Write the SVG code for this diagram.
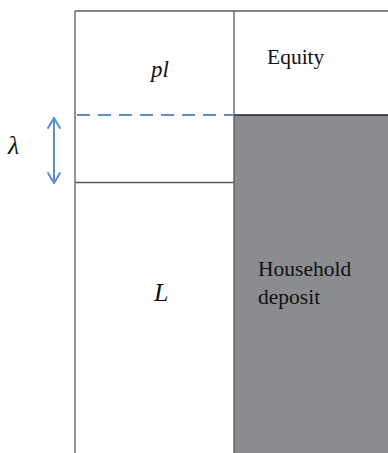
<svg xmlns="http://www.w3.org/2000/svg" width="388" height="453" viewBox="0 0 388 453">
<style>
.ln{stroke:#595959;stroke-width:1.3;fill:none}
.t{font-family:Liberation Serif,Times New Roman,serif;fill:#111}
.it{font-style:italic}
.blue{stroke:#5b8fcc;stroke-width:2;fill:none;stroke-linecap:round;stroke-linejoin:round}
</style>
<defs>
<marker id="ah" viewBox="0 0 12 14" refX="11" refY="7" markerWidth="12" markerHeight="14" orient="auto-start-reverse" markerUnits="userSpaceOnUse">
<path d="M1,1 L11,7 L1,13" stroke="#5b8fcc" stroke-width="2" fill="none" stroke-linecap="round" stroke-linejoin="round"/>
</marker>
</defs>
<rect width="388" height="453" fill="#fff"/>
<g id="deposit">
<rect x="234" y="115" width="154" height="338" fill="#8b8c90"/>
<line x1="234" y1="115" x2="388" y2="115" stroke="#222" stroke-width="1.3"/>
<text class="t" font-family="Liberation Serif" x="258" y="276" font-size="21.5">Household</text>
<text class="t" font-family="Liberation Serif" x="258" y="304" font-size="21.5">deposit</text>
</g>
<g id="equity">
<text class="t" font-family="Liberation Serif" x="267" y="64" font-size="21.5">Equity</text>
</g>
<g id="frame">
<line class="ln" x1="75" y1="11" x2="388" y2="11"/>
<line class="ln" x1="75" y1="11" x2="75" y2="453"/>
<line class="ln" x1="234" y1="11" x2="234" y2="453"/>
<line class="ln" x1="75" y1="182.5" x2="234" y2="182.5"/>
</g>
<g id="pl">
<text class="t it" font-family="Liberation Serif" x="151" y="77" font-size="23">pl</text>
</g>
<g id="L">
<text class="t it" font-family="Liberation Serif" x="154" y="301" font-size="26">L</text>
</g>
<g id="connectors">
<line x1="77" y1="115" x2="234" y2="115" stroke="#5b8fcc" stroke-width="2" stroke-dasharray="13,8"/>
<line class="blue" x1="54" y1="118" x2="54" y2="183" marker-start="url(#ah)" marker-end="url(#ah)"/>
</g>
<g id="lambda">
<text class="t it" font-family="Liberation Serif" x="8" y="154" font-size="26">λ</text>
</g>
</svg>
